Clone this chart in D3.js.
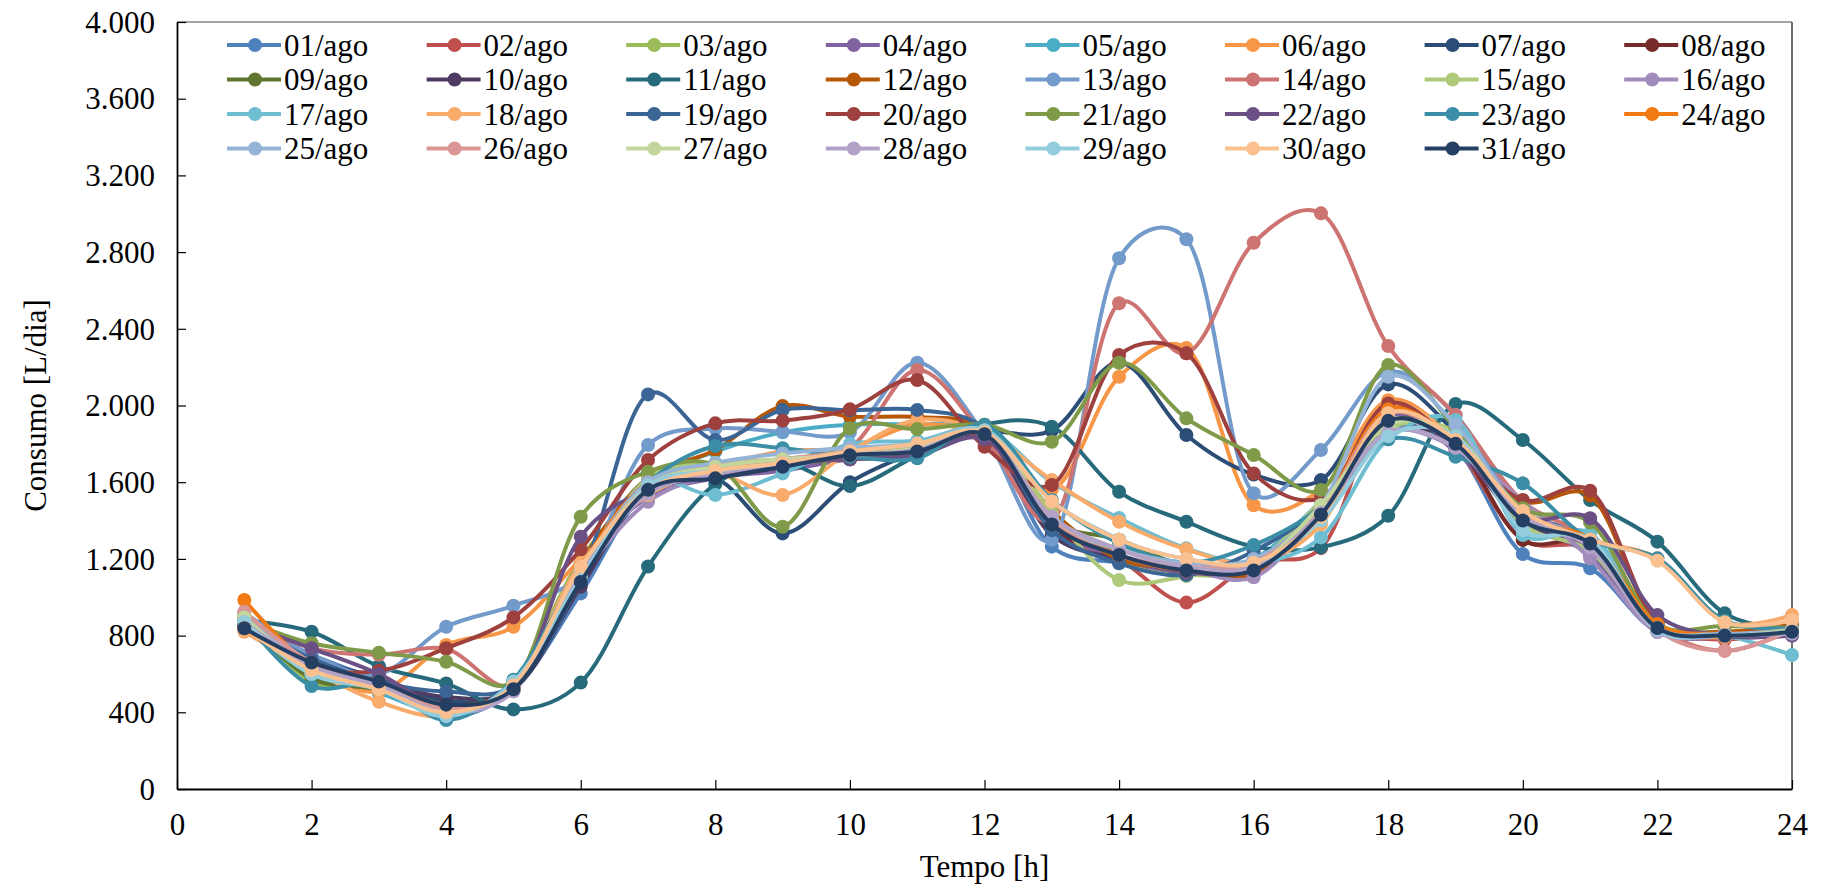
<!DOCTYPE html>
<html><head><meta charset="utf-8">
<script src="https://cdn.jsdelivr.net/npm/d3@7"></script>
<style>
html,body{margin:0;padding:0;background:#fff;}
svg{display:block;}
text{font-family:"Liberation Serif","Times New Roman",serif;fill:#000;}
</style></head>
<body>
<svg id="chart" width="1825" height="894"></svg>
<script>
const hours = d3.range(1, 25);
const xTicks = [0,2,4,6,8,10,12,14,16,18,20,22,24];
const yTicks = [0,400,800,1200,1600,2000,2400,2800,3200,3600,4000];
const seriesNames = ["01/ago","02/ago","03/ago","04/ago","05/ago","06/ago","07/ago","08/ago","09/ago","10/ago","11/ago","12/ago","13/ago","14/ago","15/ago","16/ago","17/ago","18/ago","19/ago","20/ago","21/ago","22/ago","23/ago","24/ago","25/ago","26/ago","27/ago","28/ago","29/ago","30/ago","31/ago"];
const seriesColors = ["#4F81BD","#C0504D","#9BBB59","#8064A2","#4BACC6","#F79646","#2C4D75","#772C2A","#5F7530","#4D3B62","#276A7C","#B65708","#729ACA","#CD7371","#AFC97A","#A18BBB","#6FBDD1","#F9AB6B","#3A6595","#9E413E","#7F9A48","#6A5084","#3B8EA5","#F27A12","#95B3D7","#D99694","#C3D69B","#B3A2C7","#93CDDD","#FAC090","#253F63"];

const d01 = [850,700,560,380,520,1020,1560,1640,1720,1740,1760,1840,1264,1180,1120,1160,1420,1960,1780,1225,1151,820,790,820];
const d02 = [880,620,540,400,530,1120,1620,1660,1700,1720,1740,1860,1350,1200,972,1180,1256,2000,1780,1300,1250,850,780,840];
const d03 = [900,560,530,370,560,1200,1580,1680,1720,1740,1760,1880,1450,1200,1120,1150,1480,1900,1900,1450,1300,860,800,830];
const d04 = [860,640,520,420,510,1180,1520,1620,1660,1720,1740,1850,1380,1200,1130,1160,1450,1950,1760,1400,1220,820,790,800];
const d05 = [880,600,500,400,560,1150,1600,1760,1860,1900,1900,1880,1500,1300,1150,1200,1500,1850,1900,1400,1300,860,810,830];
const d06 = [830,620,510,751,846,1200,1560,1680,1760,1780,1900,1840,1560,2150,2300,1480,1560,2028,1820,1420,1280,850,790,850];
const d07 = [850,680,580,460,520,1100,1580,1620,1333,1600,1760,1860,1870,2226,1846,1640,1611,2110,1860,1450,1300,860,800,830];
const d08 = [860,620,560,440,530,1180,1600,1660,1700,1740,1780,1850,1350,1250,1150,1180,1440,1980,1800,1299,1280,850,800,830];
const d09 = [880,577,520,430,540,1160,1620,1680,1700,1720,1760,1870,1400,1300,1160,1150,1460,1920,1820,1450,1280,860,820,850];
const d10 = [860,660,560,480,520,1055,1560,1620,1680,1740,1760,1840,1325,1200,1140,1130,1420,1889,1780,1380,1260,830,800,820];
const d11 = [880,820,640,550,415,555,1160,1590,1700,1580,1740,1900,1889,1550,1394,1264,1260,1425,2008,1820,1507,1290,916,830];
const d12 = [850,640,560,420,540,1180,1620,1768,1997,1942,1940,1880,1450,1200,1150,1120,1440,1990,1820,1500,1530,860,820,860];
const d13 = [920,700,600,846,956,1120,1794,1880,1864,1860,2223,1850,1300,2768,2867,1542,1768,2176,1950,1450,1300,850,800,820];
const d14 = [880,735,700,730,540,1150,1600,1680,1720,1780,2185,1840,1400,2533,2272,2849,3002,2310,1950,1500,1300,850,721,830];
const d15 = [880,600,540,400,520,1120,1620,1700,1720,1760,1800,1880,1438,1090,1110,1180,1500,1880,1860,1380,1240,840,800,820];
const d16 = [870,640,520,410,520,1100,1498,1640,1680,1740,1760,1850,1420,1250,1150,1104,1450,1860,1780,1500,1203,820,800,810];
const d17 = [860,600,540,380,560,1107,1600,1533,1646,1799,1816,1880,1600,1413,1255,1180,1312,1824,1924,1325,1333,830,800,699];
const d18 = [820,620,455,380,540,1180,1533,1640,1533,1760,1924,1860,1611,1394,1250,1180,1380,2000,1820,1450,1300,1203,870,907];
const d19 = [860,680,560,508,540,1100,2058,1820,1977,1975,1977,1880,1350,1177,1116,1240,1480,1960,1800,1400,1280,840,800,820];
const d20 = [870,638,617,734,895,1250,1716,1907,1921,1980,2133,1785,1585,2263,2272,1646,1520,2011,1803,1507,1556,870,800,840];
const d21 = [880,760,711,664,560,1420,1655,1690,1368,1881,1877,1900,1811,2223,1933,1742,1559,2211,1881,1464,1390,860,850,840];
const d22 = [860,734,600,421,520,1316,1560,1629,1699,1720,1740,1824,1403,1220,1130,1150,1420,1959,1780,1412,1412,907,798,800];
const d23 = [880,537,551,360,570,1151,1597,1789,1777,1733,1725,1898,1507,1281,1180,1272,1470,1824,1733,1594,1299,1203,878,840];
const d24 = [986,640,520,420,540,1160,1600,1680,1700,1740,1780,1860,1420,1220,1140,1160,1460,1980,1800,1420,1300,860,810,830];
const d25 = [900,640,540,420,520,1140,1600,1700,1750,1780,1800,1870,1400,1250,1180,1200,1480,2150,1900,1440,1280,840,810,830];
const d26 = [925,660,560,420,520,1150,1580,1680,1720,1760,1800,1860,1400,1220,1160,1180,1460,1960,1800,1440,1280,830,721,830];
const d27 = [895,620,540,400,520,1140,1580,1680,1720,1740,1780,1870,1420,1250,1160,1160,1480,1900,1840,1420,1280,840,800,830];
const d28 = [870,640,540,400,510,1120,1540,1640,1700,1740,1770,1850,1420,1250,1160,1160,1440,1860,1780,1420,1260,820,800,810];
const d29 = [870,600,520,380,560,1100,1580,1660,1700,1760,1800,1870,1500,1300,1200,1180,1400,1840,1840,1350,1300,830,800,820];
const d30 = [840,620,520,400,540,1160,1560,1660,1700,1760,1800,1860,1500,1300,1200,1180,1420,1960,1820,1450,1300,1190,870,880];
const d31 = [838,660,560,440,520,1080,1560,1620,1680,1740,1760,1850,1380,1220,1140,1140,1430,1920,1800,1400,1280,840,800,820];

const seriesValues = [d01,d02,d03,d04,d05,d06,d07,d08,d09,d10,d11,d12,d13,d14,d15,d16,d17,d18,d19,d20,d21,d22,d23,d24,d25,d26,d27,d28,d29,d30,d31];

const svg = d3.select("#chart");
const L = 177, R = 1792, T = 22, B = 789;
const x = d3.scaleLinear().domain([0,24]).range([L,R]);
const y = d3.scaleLinear().domain([0,4000]).range([B,T]);
const fmt = v => d3.format(",")(v).replace(/,/g,".");

// frame
svg.append("line").attr("x1",L).attr("x2",R).attr("y1",T).attr("y2",T).attr("stroke","#868686").attr("stroke-width",1.5);
svg.append("line").attr("x1",R).attr("x2",R).attr("y1",T).attr("y2",B).attr("stroke","#404040").attr("stroke-width",1.5);

// axes
const yAxis = d3.axisLeft(y).tickValues(yTicks).tickSizeInner(-9).tickSizeOuter(0).tickPadding(22).tickFormat(fmt);
const gy = svg.append("g").attr("transform",`translate(${L},0)`).call(yAxis);
const xAxis = d3.axisBottom(x).tickValues(xTicks).tickSizeInner(-9).tickSizeOuter(0).tickPadding(24).tickFormat(d3.format("d"));
const gx = svg.append("g").attr("transform",`translate(0,${B})`).call(xAxis);
[gx,gy].forEach(g=>{
  g.attr("font-family",null).attr("font-size",null);
  g.select(".domain").attr("stroke","#000").attr("stroke-width",1.8);
  g.selectAll(".tick line").attr("stroke","#000").attr("stroke-width",1.2);
  g.selectAll(".tick text").style("font-family","'Liberation Serif', serif").style("font-size","31px").attr("fill","#000");
});
gy.selectAll(".tick text").attr("dy","0.33em");
gx.selectAll(".tick text").attr("dy","0.71em");

// titles
svg.append("text").attr("x",(L+R)/2).attr("y",877).attr("text-anchor","middle").style("font-size","31px").text("Tempo [h]");
svg.append("text").attr("transform",`translate(46,${(T+B)/2}) rotate(-90)`).attr("text-anchor","middle").style("font-size","31px").text("Consumo [L/dia]");

// series
const line = d3.line().x((d,i)=>x(hours[i])).y(d=>y(d)).curve(d3.curveCatmullRom.alpha(0.25));
const plot = svg.append("g");
seriesValues.forEach((vals,si)=>{
  const g = plot.append("g");
  g.append("path").attr("d",line(vals)).attr("fill","none").attr("stroke",seriesColors[si]).attr("stroke-width",4).attr("stroke-linejoin","round");
  g.selectAll("circle").data(vals).join("circle")
    .attr("cx",(d,i)=>x(hours[i])).attr("cy",d=>y(d)).attr("r",7).attr("fill",seriesColors[si]);
});

// legend
const leg = svg.append("g");
const colX0 = 227, colW = 199.6, rowY0 = 45, rowH = 34.5;
seriesNames.forEach((n,i)=>{
  const c = i % 8, r = Math.floor(i/8);
  const lx = colX0 + c*colW, ly = rowY0 + r*rowH;
  const g = leg.append("g");
  g.append("line").attr("x1",lx).attr("x2",lx+54).attr("y1",ly).attr("y2",ly).attr("stroke",seriesColors[i]).attr("stroke-width",4);
  g.append("circle").attr("cx",lx+28).attr("cy",ly).attr("r",7).attr("fill",seriesColors[i]);
  g.append("text").attr("x",lx+57).attr("y",ly+10.5).style("font-size","31px").text(n);
});
</script>
</body></html>
